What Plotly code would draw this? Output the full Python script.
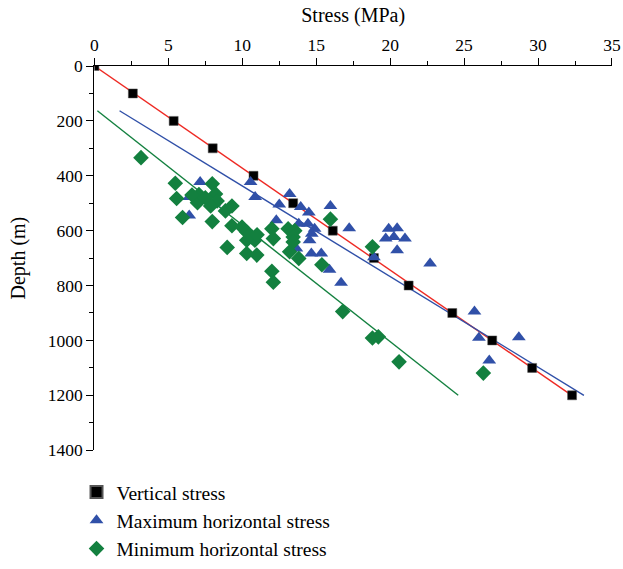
import plotly.graph_objects as go

# Vertical stress (measured/calculated)
vert_depth = [0, 100, 200, 300, 400, 500, 600, 700, 800, 900, 1000, 1100, 1200]
vert_stress = [0, 2.6, 5.36, 8.0, 10.76, 13.44, 16.12, 18.9, 21.25, 24.2, 26.9, 29.6, 32.3]

# Maximum horizontal stress
max_stress = [7.15, 10.56, 6.41, 10.87, 6.41, 8.1, 12.5, 12.3, 13.2, 13.95, 14.5, 15.96,
              13.82, 14.44, 14.89, 14.7, 17.23, 19.9, 20.47, 19.7, 20.25, 21.0, 13.66,
              14.67, 15.34, 14.55, 15.9, 16.68, 18.9, 20.47, 22.7, 25.7, 26.0, 28.7, 26.7]
max_depth = [423, 423, 477, 477, 545, 500, 505, 562, 466, 514, 534, 510,
             575, 575, 593, 611, 591, 593, 591, 629, 623, 629, 665,
             683, 683, 635, 742, 790, 697, 671, 720, 895, 990, 988, 1073]

# Minimum horizontal stress
min_stress = [3.15, 5.47, 7.97, 5.56, 7.07, 6.97, 8.19, 8.3, 7.86, 5.96, 7.97, 8.86, 9.3,
              9.3, 9.98, 10.3, 10.65, 12.0, 12.1, 8.98, 10.3, 10.85, 10.3, 10.98, 12.0,
              12.1, 13.1, 13.55, 13.44, 13.2, 13.82, 13.44, 15.38, 15.96, 16.79, 18.8,
              18.8, 19.2, 20.6, 26.3, 7.5, 6.6, 10.5, 11.0]
min_depth = [334, 427, 429, 483, 468, 498, 466, 492, 510, 552, 567, 528, 510,
             582, 587, 605, 623, 593, 629, 661, 635, 635, 683, 689, 748,
             788, 593, 600, 623, 677, 701, 641, 724, 558, 895, 659,
             991, 987, 1078, 1119, 480, 470, 615, 615]

# Fitted trend lines (endpoints)
fit_vert_x = [0, 32.4]
fit_vert_y = [0, 1205]
fit_max_x = [1.7, 33.1]
fit_max_y = [163, 1200]
fit_min_x = [0.2, 24.6]
fit_min_y = [163, 1200]

RED = "#EE2A24"
BLUE = "#3050A8"
GREEN = "#13803F"
FONT = "Liberation Serif"

W, H = 623, 569
ML, MR, MT, MB = 0, 11, 66, 0
PW, PH = W - ML - MR, H - MT - MB
X0, Y1 = 91, 458  # plot-area left edge and bottom edge in pixels

fig = go.Figure()
fig.add_trace(go.Scatter(x=fit_vert_x, y=fit_vert_y, mode="lines",
                         line=dict(color=RED, width=1.4), showlegend=False))
fig.add_trace(go.Scatter(x=fit_max_x, y=fit_max_y, mode="lines",
                         line=dict(color=BLUE, width=1.4), showlegend=False))
fig.add_trace(go.Scatter(x=fit_min_x, y=fit_min_y, mode="lines",
                         line=dict(color=GREEN, width=1.4), showlegend=False))

fig.add_trace(go.Scatter(x=vert_stress, y=vert_depth, mode="markers", name="Vertical stress",
                         legendgroup="a", legendrank=1,
                         marker=dict(symbol="square", size=9, color="black",
                                     line=dict(color="#555", width=0.5))))
fig.add_trace(go.Scatter(x=max_stress, y=max_depth, mode="markers",
                         name="Maximum horizontal stress", legendgroup="b", legendrank=2,
                         marker=dict(symbol="triangle-up", size=12, color=BLUE)))
fig.add_trace(go.Scatter(x=min_stress, y=min_depth, mode="markers",
                         name="Minimum horizontal stress", legendgroup="c", legendrank=3,
                         marker=dict(symbol="diamond", size=12, color=GREEN)))

fig.update_layout(
    width=W, height=H,
    margin=dict(l=ML, r=MR, t=MT, b=MB),
    paper_bgcolor="white", plot_bgcolor="white",
    font=dict(family=FONT, size=18, color="black"),
    xaxis=dict(
        domain=[(X0 - ML) / PW, 1],
        side="top", range=[0, 35], dtick=5, tick0=0,
        showgrid=False, zeroline=False, showline=True, linecolor="black", linewidth=1.3,
        ticks="outside", ticklen=7, tickwidth=1.3, tickcolor="black",
        minor=dict(dtick=2.5, ticks="outside", ticklen=4, tickwidth=1.2, tickcolor="black"),
        title=dict(text="Stress (MPa)", font=dict(size=20), standoff=6),
        tickfont=dict(size=17.5),
    ),
    yaxis=dict(
        domain=[(H - MB - Y1) / PH, 1],
        range=[1400, 0], dtick=200, tick0=0,
        showgrid=False, zeroline=False, showline=True, linecolor="black", linewidth=1.3,
        ticks="outside", ticklen=7, tickwidth=1.3, tickcolor="black",
        minor=dict(dtick=100, ticks="outside", ticklen=4, tickwidth=1.2, tickcolor="black"),
        title=dict(text="Depth (m)", font=dict(size=20), standoff=16),
        tickfont=dict(size=17.5),
    ),
    legend=dict(x=73 / PW, y=(H - MB - 481) / PH, xanchor="left", yanchor="top",
                tracegroupgap=0, font=dict(size=19.5, family=FONT),
                bgcolor="rgba(0,0,0,0)", itemsizing="constant"),
)

fig.write_html("out.html", config={"displayModeBar": False},
               post_script="document.body.style.margin='0';")
